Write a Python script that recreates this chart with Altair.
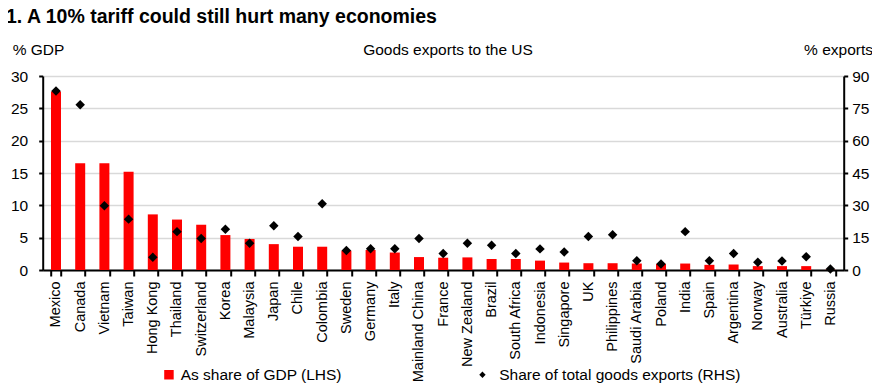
import altair as alt
import pandas as pd

countries = ["Mexico", "Canada", "Vietnam", "Taiwan", "Hong Kong", "Thailand", "Switzerland",
             "Korea", "Malaysia", "Japan", "Chile", "Colombia", "Sweden", "Germany", "Italy",
             "Mainland China", "France", "New Zealand", "Brazil", "South Africa", "Indonesia",
             "Singapore", "UK", "Philippines", "Saudi Arabia", "Poland", "India", "Spain",
             "Argentina", "Norway", "Australia", "Türkiye", "Russia"]
gdp_share = [27.6, 16.5, 16.5, 15.2, 8.6, 7.8, 7.0, 5.4, 4.8, 4.0, 3.6, 3.6, 3.0, 3.1, 2.7,
             2.0, 1.9, 1.95, 1.7, 1.7, 1.45, 1.15, 1.05, 1.05, 1.0, 0.95, 1.0, 0.8, 0.85,
             0.6, 0.6, 0.6, 0.05]
export_share = [83.0, 76.7, 29.8, 23.6, 5.9, 17.8, 14.6, 18.9, 12.4, 20.5, 15.5, 30.7, 9.0,
                9.9, 9.9, 14.6, 7.6, 12.4, 11.5, 7.6, 9.8, 8.4, 15.5, 16.3, 4.3, 2.8, 17.8,
                4.3, 7.6, 3.6, 4.2, 6.2, 0.5]

title_text = "1. A 10% tariff could still hurt many economies"
lhs_label = "% GDP"
center_label = "Goods exports to the US"
rhs_label = "% exports"
bar_series = "As share of GDP (LHS)"
point_series = "Share of total goods exports (RHS)"
lhs_ticks = [0, 5, 10, 15, 20, 25, 30]
rhs_ticks = [0, 15, 30, 45, 60, 75, 90]

df = pd.DataFrame({"country": countries, "gdp": gdp_share, "exp": export_share,
                   "s1": bar_series, "s2": point_series})

FONT = "Liberation Sans, Arial, sans-serif"
FS = 15.5

x_enc = alt.X("country:N", sort=countries, title=None,
              scale=alt.Scale(paddingInner=0.587, paddingOuter=0.343),
              axis=alt.Axis(labelAngle=-90, labelFont=FONT, labelFontSize=14.5, labelColor="black",
                            labelLimit=400,
                            tickBand="extent", tickSize=6, tickColor="black", tickWidth=2,
                            domainColor="black", domainWidth=2, labelPadding=5))

bars = alt.Chart(df).mark_bar(color="#ff0000").encode(
    x=x_enc,
    y=alt.Y("gdp:Q", title=None, scale=alt.Scale(domain=[0, 30], nice=False),
            axis=alt.Axis(values=lhs_ticks, grid=True, gridColor="#d9d9d9", gridWidth=1.5,
                          labelFont=FONT, labelFontSize=FS, labelColor="black",
                          tickSize=4, tickColor="black", tickWidth=2, domainColor="black",
                          domainWidth=2, labelPadding=11)),
    color=alt.Color("s1:N", scale=alt.Scale(range=["#ff0000"]),
                    legend=alt.Legend(orient="none", legendX=118.5, legendY=291, title=None,
                                      symbolType="square", symbolSize=90, symbolStrokeWidth=0,
                                      labelFont=FONT, labelFontSize=FS, labelColor="black",
                                      labelLimit=400, labelOffset=4, padding=0)),
)

points = alt.Chart(df).mark_point(filled=True, size=90, color="black", opacity=1).encode(
    x=x_enc,
    y=alt.Y("exp:Q", title=None, scale=alt.Scale(domain=[0, 90], nice=False),
            axis=alt.Axis(orient="right", values=rhs_ticks, grid=False,
                          labelFont=FONT, labelFontSize=FS, labelColor="black",
                          tickSize=4, tickColor="black", tickWidth=2, domainColor="black",
                          domainWidth=2, labelPadding=4)),
    shape=alt.Shape("s2:N", scale=alt.Scale(range=["diamond"]),
                    legend=alt.Legend(orient="none", legendX=432, legendY=291, title=None,
                                      symbolSize=40, symbolFillColor="black", symbolStrokeWidth=0,
                                      labelFont=FONT, labelFontSize=FS, labelColor="black",
                                      labelLimit=400, labelOffset=9, padding=0)),
)

def label(text, xv, yv, align="left", font=FONT, size=FS, weight="normal"):
    return alt.Chart(pd.DataFrame({"t": [text]})).mark_text(
        align=align, baseline="alphabetic", font=font, fontSize=size, fontWeight=weight,
        color="black").encode(text="t:N", x=alt.value(xv), y=alt.value(yv))

t_title = label(title_text, -36.7, -52.6, size=19.5, weight="bold")
t_lhs = label(lhs_label, -30, -21)
t_center = label(center_label, 405.3, -21, align="center")
t_rhs = label(rhs_label, 830.3, -21, align="right")

chart = alt.layer(bars, points, t_title, t_lhs, t_center, t_rhs).resolve_scale(
    y="independent", color="independent", shape="independent"
).properties(
    width=801, height=194, autosize=alt.AutoSizeParams(type="none"),
    padding={"left": 34.7, "top": 68, "right": 28.3, "bottom": 113},
    background="white",
).configure_view(strokeWidth=0)

chart.save("out.html", embed_options={"renderer": "svg", "actions": False})
